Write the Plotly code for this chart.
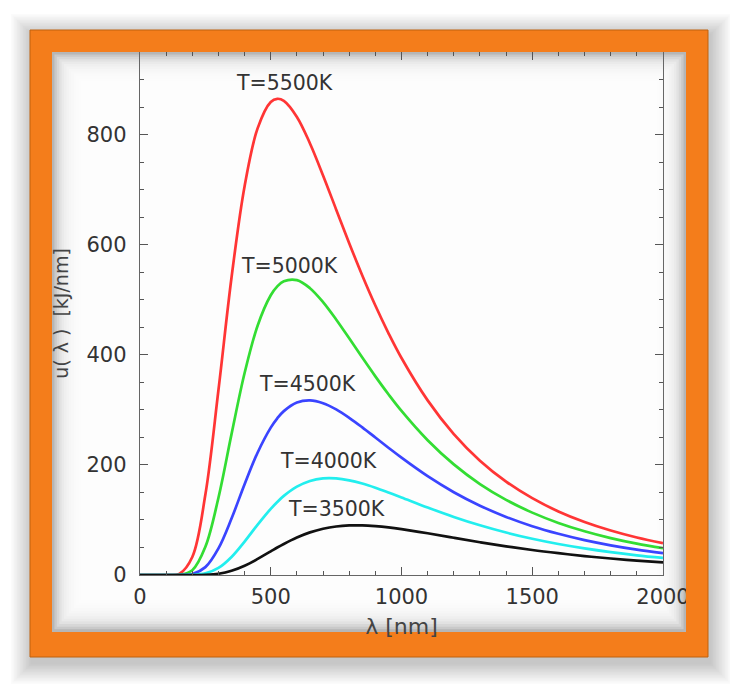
import plotly.graph_objects as go

# ---- data ----
wavelength_nm = [0, 100, 150, 200, 250, 300, 350, 400, 450, 500, 525, 550, 600, 650, 700, 750,
                 800, 850, 900, 950, 1000, 1100, 1200, 1300, 1400, 1500, 1600, 1700, 1800, 1900, 2000]
u_5500 = [0, 0, 1.8, 32.6, 146.1, 336.0, 540.4, 706.2, 811.8, 859.3, 865.0, 861.3, 832.1, 783.9, 725.8, 664.1,
          602.7, 544.1, 489.5, 439.5, 394.2, 317.2, 256.0, 207.7, 169.6, 139.5, 115.4, 96.2, 80.7, 68.1, 57.9]
u_5000 = [0, 0, 0.3, 8.8, 51.3, 140.4, 255.9, 366.9, 453.3, 508.1, 524.2, 533.6, 535.6, 521.0, 495.7, 464.2,
          429.9, 394.9, 360.8, 328.3, 298.0, 244.8, 200.9, 165.2, 136.5, 113.3, 94.6, 79.4, 67.0, 56.9, 48.6]
u_4500 = [0, 0, 0, 1.8, 14.3, 48.4, 102.6, 164.9, 222.6, 267.7, 284.6, 297.7, 313.3, 317.2, 312.1, 300.9,
          285.6, 268.2, 249.8, 231.2, 213.1, 179.5, 150.4, 125.9, 105.5, 88.6, 74.8, 63.3, 53.9, 46.1, 39.6]
u_4000 = [0, 0, 0, 0.2, 2.9, 12.8, 32.8, 60.7, 91.5, 120.2, 132.7, 143.7, 160.5, 170.9, 175.5, 175.5,
          172.0, 166.1, 158.5, 149.9, 140.9, 122.6, 105.5, 90.3, 77.1, 65.8, 56.3, 48.3, 41.5, 35.8, 31.0]
u_3500 = [0, 0, 0, 0, 0.4, 2.3, 7.6, 16.8, 29.2, 43.0, 49.9, 56.4, 68.1, 77.4, 84.0, 88.1,
          90.0, 90.2, 88.8, 86.5, 83.3, 75.8, 67.6, 59.5, 52.1, 45.4, 39.6, 34.4, 30.0, 26.2, 22.9]

series_names = ["T=5500K", "T=5000K", "T=4500K", "T=4000K", "T=3500K"]
series_values = [u_5500, u_5000, u_4500, u_4000, u_3500]
series_colors = ["#ff3535", "#33dd33", "#3a44ff", "#22eeee", "#111111"]
label_x = [551, 570, 642, 719, 753]
label_y = [894, 562, 347, 207, 120]

x_ticks = [0, 500, 1000, 1500, 2000]
y_ticks = [0, 200, 400, 600, 800]

# ---- figure geometry (page body adds an 8px offset) ----
OFF = 8
W, H = 738 - OFF, 686 - OFF
L, R, T, B = 140 - OFF, 75, 52 - OFF, 111
PW, PH = W - L - R, H - T - B


def px(p):  # reference-image pixel -> paper coordinate
    return (p - OFF - L) / PW


def py(p):
    return (H - B - (p - OFF)) / PH


fig = go.Figure()
for name, vals, col in zip(series_names, series_values, series_colors):
    fig.add_trace(go.Scatter(x=wavelength_nm, y=vals, mode="lines", name=name,
                             line=dict(color=col, width=2.7, shape="spline", smoothing=1.0),
                             showlegend=False))

for name, lx, ly in zip(series_names, label_x, label_y):
    fig.add_annotation(x=lx, y=ly, text=name, showarrow=False,
                       font=dict(family="DejaVu Sans", size=20.5, color="#333333"))

shapes = []
# soft drop shadow around frame, offset down-right
for k in range(14, 0, -1):
    e = k * 1.5
    shapes.append(dict(type="rect", xref="paper", yref="paper", layer="below",
                       x0=px(30 - e + 2), x1=px(708 + e + 2), y0=py(657 + e + 6), y1=py(30 - e + 5),
                       line=dict(width=0), fillcolor="rgba(0,0,0,0.017)"))
# inner vignette
shapes.append(dict(type="rect", xref="paper", yref="paper", layer="below",
                   x0=px(52), x1=px(686), y0=py(632), y1=py(52),
                   line=dict(width=0), fillcolor="#9c9c9c"))
for k in range(16):
    d = k * 2.4
    shapes.append(dict(type="rect", xref="paper", yref="paper", layer="below",
                       x0=px(52 + d), x1=px(686 - d), y0=py(632 - d * 1.1), y1=py(52 + d),
                       line=dict(width=0), fillcolor="rgba(255,255,255,0.27)"))
# orange frame (on top)
orange = "#f47d1b"
for (a, b, c, d) in [(30, 708, 30, 52), (30, 708, 632, 657), (30, 52, 30, 657), (686, 708, 30, 657)]:
    shapes.append(dict(type="rect", xref="paper", yref="paper", layer="above",
                       x0=px(a), x1=px(b), y0=py(d), y1=py(c),
                       line=dict(width=0), fillcolor=orange))
shapes.append(dict(type="rect", xref="paper", yref="paper", layer="above",
                   x0=px(30), x1=px(708), y0=py(657), y1=py(30),
                   line=dict(width=1, color="#c0630f"), fillcolor="rgba(0,0,0,0)"))

axis_common = dict(showgrid=False, zeroline=False, showline=True, linecolor="#666666", linewidth=1.4,
                   mirror="ticks", ticks="inside", ticklen=8, tickwidth=1.3, tickcolor="#555555",
                   tickfont=dict(family="DejaVu Sans", size=21, color="#333333"))

fig.update_layout(
    width=W, height=H, autosize=False,
    margin=dict(l=L, r=R, t=T, b=B, pad=0),
    paper_bgcolor="white", plot_bgcolor="rgba(0,0,0,0)",
    shapes=shapes,
    xaxis=dict(range=[0, 2000], tickvals=x_ticks, ticktext=[str(v) for v in x_ticks],
               minor=dict(dtick=100, ticks="inside", ticklen=4, tickwidth=1.1, tickcolor="#555555"),
               title=dict(text="λ [nm]", standoff=10,
                          font=dict(family="DejaVu Sans", size=22, color="#444444")),
               ticklabelstandoff=3,
               **axis_common),
    yaxis=dict(range=[0, 950], tickvals=y_ticks, ticktext=[str(v) for v in y_ticks],
               minor=dict(dtick=50, ticks="inside", ticklen=4, tickwidth=1.1, tickcolor="#555555"),
               title=dict(text="u( λ )  [kJ/nm]", standoff=12,
                          font=dict(family="DejaVu Sans", size=19, color="#444444")),
               ticklabelstandoff=8,
               **axis_common),
)

fig.write_html("out.html")
